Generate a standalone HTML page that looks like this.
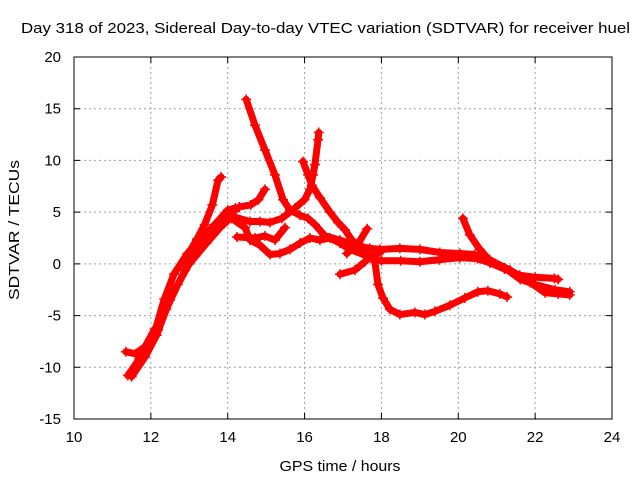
<!DOCTYPE html>
<html><head><meta charset="utf-8"><style>
body{margin:0;background:#fff;}
svg{display:block;font-family:"Liberation Sans",sans-serif;}
</style></head><body>
<svg id="chart" width="640" height="480" viewBox="0 0 640 480" xmlns="http://www.w3.org/2000/svg">
<rect width="640" height="480" fill="#fff"/>
<text x="21" y="33" font-size="15" textLength="609" lengthAdjust="spacingAndGlyphs">Day 318 of 2023, Sidereal Day-to-day VTEC variation (SDTVAR) for receiver huel</text>
<text x="340" y="471" font-size="15" textLength="121" lengthAdjust="spacingAndGlyphs" text-anchor="middle">GPS time / hours</text>
<text transform="translate(19,230) rotate(-90)" font-size="15" textLength="140" lengthAdjust="spacingAndGlyphs" text-anchor="middle">SDTVAR / TECUs</text>
<g id="grid"></g><g id="series"></g><g id="axes"></g>
</svg>
<script>
const xTicks=[10,12,14,16,18,20,22,24];
const yTicks=[-15,-10,-5,0,5,10,15,20];
const trackMain=[[11.4,-10.8],[11.7,-9.2],[12.0,-7.3],[12.19,-6.4],[12.5,-3.5],[12.89,-0.6],[13.28,1.8],[13.67,3.8],[14.0,5.2],[14.2,5.4]];
const trackMain2=[[11.5,-10.9],[11.85,-9.0],[12.15,-6.9],[12.4,-4.4],[12.7,-2.0],[13.0,0.0],[13.45,2.0],[13.8,3.5],[14.0,4.2]];
const trackMain3=[[12.1,-6.6],[12.35,-3.4],[12.6,-1.0],[12.95,1.0],[13.4,2.8],[13.8,4.3],[14.1,4.8]];
const trackStub=[[11.35,-8.5],[11.6,-8.7],[11.85,-8.0],[12.1,-6.3]];
const trackUp=[[12.9,0.5],[13.2,2.4],[13.4,3.8],[13.6,5.7],[13.75,8.1],[13.83,8.4]];
const trackA=[[14.0,4.6],[14.3,5.5],[14.6,5.7],[14.8,6.2],[14.97,7.2]];
const trackWig=[[14.1,4.6],[14.58,4.1],[14.84,4.1],[15.1,4.0],[15.41,4.4],[15.75,5.4],[16.0,6.2],[16.14,7.2],[16.22,8.6],[16.27,9.6],[16.35,12.0],[16.37,12.7]];
const trackB=[[14.48,15.9],[14.71,13.4],[14.97,11.0],[15.23,8.6],[15.44,6.2],[15.62,5.2],[15.88,4.7],[16.09,4.4],[16.27,3.8],[16.53,2.7],[16.92,2.3],[17.31,1.8],[17.7,1.5],[17.96,1.4],[18.48,1.5],[19.0,1.4],[19.52,1.1],[20.04,1.0],[20.43,0.9],[20.82,0.4],[21.21,-0.4],[21.61,-1.5],[22.0,-2.0],[22.52,-2.5],[22.9,-2.7]];
const trackDip=[[15.96,9.9],[16.09,8.6],[16.19,7.6],[16.4,6.4],[16.66,5.0],[16.87,4.0],[17.05,3.3],[17.23,2.3],[17.44,1.6],[17.65,0.8],[17.83,0.2],[17.91,-2.0],[18.04,-3.3],[18.22,-4.4],[18.48,-4.9],[18.87,-4.7],[19.13,-4.9],[19.39,-4.6],[19.78,-4.0],[20.17,-3.3],[20.51,-2.7],[20.77,-2.6],[21.08,-2.9],[21.27,-3.2]];
const trackLow=[[14.24,2.6],[14.71,2.5],[14.97,2.7],[15.23,2.3],[15.49,3.5]];
const trackLow2=[[14.1,4.4],[14.45,3.5],[14.58,2.3],[14.84,1.8],[15.1,0.9],[15.36,1.0],[15.62,1.4],[15.88,2.0],[16.14,2.5],[16.4,2.3],[16.66,2.5],[16.92,2.0],[17.18,1.4],[17.6,0.8],[18.0,0.3],[18.5,0.3],[19.0,0.2],[19.5,0.4],[20.04,0.6],[20.5,0.5],[20.82,0.1],[21.2,-0.5],[21.6,-1.1],[22.0,-1.3],[22.5,-1.4],[22.6,-1.5]];
const trackC=[[16.92,-1.0],[17.31,-0.6],[17.57,0.2],[17.75,0.8],[18.0,1.2]];
const trackX=[[17.1,1.0],[17.4,2.0],[17.63,3.4]];
const trackE=[[20.12,4.4],[20.3,2.8],[20.56,1.4],[20.8,0.4],[21.35,-0.6],[21.87,-1.8],[22.26,-2.8],[22.6,-2.9],[22.9,-3.0]];
const tracks=[trackMain,trackMain2,trackMain3,trackStub,trackUp,trackA,trackWig,trackB,trackDip,trackLow,trackLow2,trackC,trackX,trackE];
const X0=74,X1=612,Y0=419,Y1=57;
const sx=v=>X0+(v-10)/14*(X1-X0);
const sy=v=>Y0-(v+15)/35*(Y0-Y1);
const NS="http://www.w3.org/2000/svg";
function mk(tag,attrs,parent){const e=document.createElementNS(NS,tag);for(const k in attrs)e.setAttribute(k,attrs[k]);parent.appendChild(e);return e;}
const grid=document.getElementById('grid'),axes=document.getElementById('axes'),ser=document.getElementById('series');
xTicks.forEach(t=>{
  if(t>10&&t<24){const l=mk('line',{x1:sx(t),x2:sx(t),y1:Y1,y2:Y0,stroke:'#a0a0a0','stroke-dasharray':'2,3'},grid);
  
  }
  const tk=mk('path',{d:`M${sx(t)},${Y0}v-6M${sx(t)},${Y1}v6`,stroke:'#000'},axes);
  
  
  const tx=mk('text',{x:sx(t),y:Y0+23,'font-size':'15','text-anchor':'middle'},axes);tx.textContent=t;
  
  
});
yTicks.forEach(t=>{
  if(t>-15&&t<20){const l=mk('line',{x1:X0,x2:X1,y1:sy(t),y2:sy(t),stroke:'#a0a0a0','stroke-dasharray':'2,3'},grid);
  
  }
  const tk=mk('path',{d:`M${X0},${sy(t)}h6M${X1},${sy(t)}h-6`,stroke:'#000'},axes);
  
  
  const tx=mk('text',{x:X0-13,y:sy(t)+5,'font-size':'15','text-anchor':'end'},axes);tx.textContent=t;
  
  
});
const fr=mk('rect',{x:X0,y:Y1,width:X1-X0,height:Y0-Y1,fill:'none',stroke:'#000'},axes);


tracks.forEach(tr=>{
  const p=mk('polyline',{points:tr.map(d=>sx(d[0])+','+sy(d[1])).join(' '),fill:'none',stroke:'#ff0000','stroke-width':7,'stroke-linejoin':'round','stroke-linecap':'round'},ser);
  
  
  tr.forEach(d=>{
    const m=mk('path',{d:`M${sx(d[0])-5},${sy(d[1])}h10M${sx(d[0])},${sy(d[1])-5}v10`,stroke:'#ff0000','stroke-width':1.5},ser);
    
    
  });
});
</script>
</body></html>
